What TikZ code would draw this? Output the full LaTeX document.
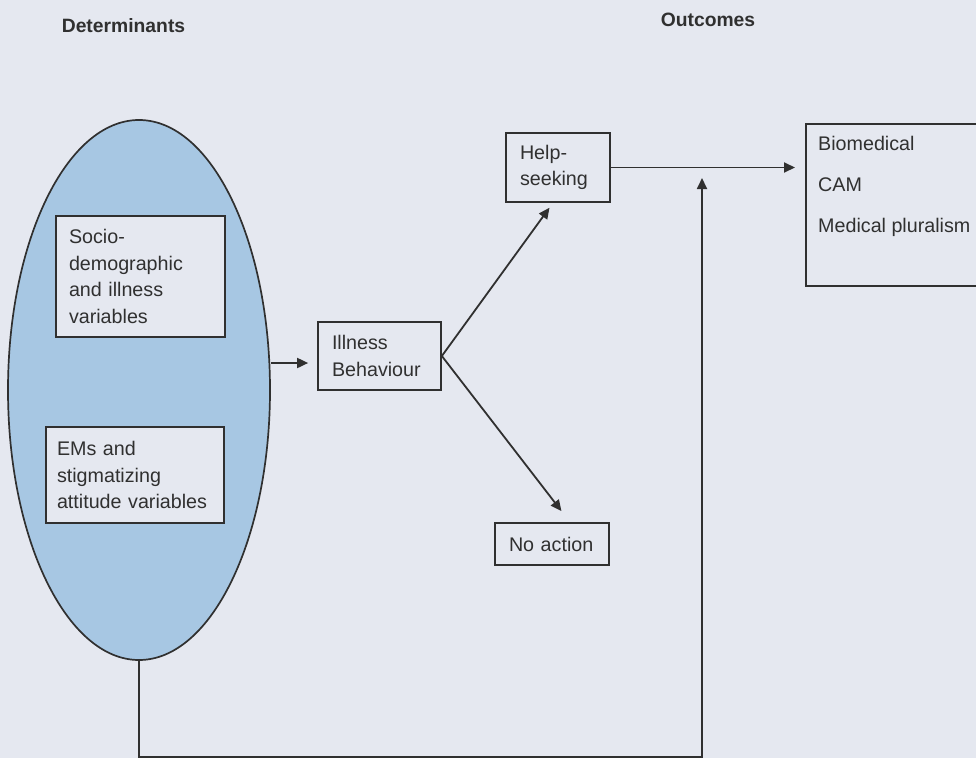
\documentclass[tikz,border=0pt]{standalone}
\usepackage{fontspec}
\setmainfont{Liberation Sans}
\usetikzlibrary{shapes.geometric,arrows.meta}
\definecolor{bgcol}{HTML}{E5E8F0}
\definecolor{ellcol}{HTML}{A7C7E3}
\definecolor{inkcol}{HTML}{303030}
\begin{document}
\begin{tikzpicture}[x=1pt,y=-1pt,
  txt/.style={font=\fontsize{19.7}{26.5}\selectfont, text=inkcol},
  head/.style={font=\fontsize{19.3}{24}\selectfont\bfseries, text=inkcol},
  boxnode/.style={draw=inkcol, fill=bgcol, line width=1.7pt, rectangle, inner ysep=0pt, align=left, txt},
  arr/.style={draw=inkcol, line width=1.8pt, -{Triangle[length=11pt,width=10pt]}}]
\useasboundingbox (0,0) rectangle (976,758);
\clip (0,0) rectangle (976,758);
\fill[bgcol] (0,0) rectangle (976,758);

\node[head] (dethead) at (123.5,26) {Determinants};
\node[head] (outhead) at (708,20) {Outcomes};

\node[ellipse, draw=inkcol, fill=ellcol, line width=1.7pt, minimum width=262pt, minimum height=540pt, inner sep=0pt] (ell) at (139,390) {};

\node[boxnode, minimum width=169pt, minimum height=121pt, inner xsep=13pt, text width=143pt] (socio) at (140.5,276.5) {Socio-\\demographic\\and illness\\variables};
\node[boxnode, minimum width=178pt, minimum height=96pt, inner xsep=11pt, text width=156pt] (ems) at (135,475) {EMs and\\stigmatizing\\attitude variables};
\node[boxnode, minimum width=123pt, minimum height=68pt, inner xsep=14pt, text width=95pt] (ib) at (379.5,356) {Illness\\Behaviour};
\node[boxnode, minimum width=104pt, minimum height=69pt, inner xsep=14pt, text width=76pt] (hs) at (558,167.5) {Help-\\seeking};
\node[boxnode, minimum width=114pt, minimum height=42pt, inner xsep=14pt, text width=86pt] (na) at (552,544) {No action};
\node[draw=inkcol, fill=bgcol, line width=1.7pt, rectangle, minimum width=220pt, minimum height=162pt, anchor=north west] (out) at (805,123) {};
\node[txt, anchor=west, align=left, inner sep=0pt, font=\fontsize{19.7}{41}\selectfont] (outtxt) at (818,186) {Biomedical\\CAM\\Medical pluralism};

\draw[arr, shorten >=9pt] ([yshift=27pt]ell.east) -- ([yshift=27pt]ell.east -| ib.west);
\draw[arr, shorten >=6pt] (ib.east) -- ([xshift=-5pt]hs.south);
\draw[arr, shorten >=14pt] (ib.east) -- ([xshift=18pt]na.north);
\draw[arr, shorten >=10pt] (hs.east) -- (hs.east -| out.west);
\coordinate (fbbot) at (702,757);
\coordinate (fbtip) at (702,178);
\draw[arr] (ell.south) |- (fbbot) -- (fbtip);
\end{tikzpicture}
\end{document}
